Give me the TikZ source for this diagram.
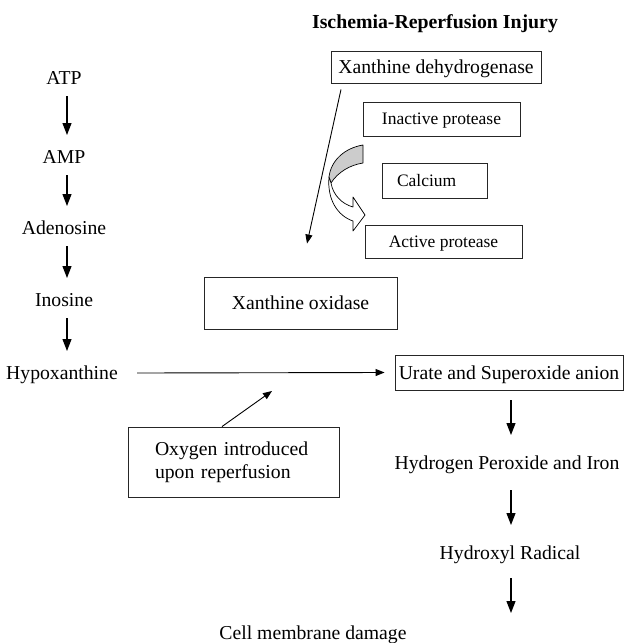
\documentclass[tikz,border=0pt]{standalone}
\usepackage{fontspec}
\setmainfont{Liberation Serif}
\usetikzlibrary{arrows.meta}
\begin{document}
\begin{tikzpicture}[x=1pt,y=-1pt,
  txt/.style={inner sep=0pt, text height=14pt, text depth=1pt, font=\fontsize{19.7}{23}\selectfont},
  box/.style={draw=black!85, line width=0.9pt, inner sep=0pt, text height=14pt, text depth=1pt, font=\fontsize{19.7}{23}\selectfont},
  sbox/.style={box, font=\fontsize{17.5}{21}\selectfont, text height=12.5pt},
  bigarr/.style={line width=1.2pt, -{Triangle[length=12pt,width=9pt]}},
  thinarr/.style={line width=0.9pt, -{Triangle[length=9pt,width=7pt]}},
  curv/.style={draw=black, line width=0.7pt, line join=round}
]
\useasboundingbox (0,0) rectangle (627,643);

% title
\node[txt, font=\bfseries\fontsize{19.8}{23}\selectfont] (title) at (435,22) {Ischemia-Reperfusion Injury};

% right-upper boxes
\node[box, minimum width=210, minimum height=32] (xdh) at (436,67) {Xanthine dehydrogenase};
\node[sbox, minimum width=157, minimum height=34] (inact) at (441.5,119) {Inactive protease};
\node[sbox, minimum height=35, text width=75pt, inner xsep=15pt, align=left] (ca) at (434.5,180.5) {Calcium};
\node[sbox, minimum width=157, minimum height=33] (act) at (443.5,241.5) {Active protease};
\node[box, minimum width=193, minimum height=52] (xo) at (300.5,303) {Xanthine oxidase};
\node[box, minimum width=228, minimum height=35] (urate) at (509,372.5) {Urate and Superoxide anion};
\node[draw=black!85, line width=0.9pt, minimum height=70, text width=157pt, inner xsep=27pt, inner ysep=0pt,
      align=left, font=\fontsize{19.7}{23}\selectfont] (oxy) at (233.5,462) {Oxygen introduced\\upon reperfusion};

% left column
\node[txt] (atp) at (64,78) {ATP};
\node[txt] (amp) at (64,157) {AMP};
\node[txt] (ado) at (64,228) {Adenosine};
\node[txt] (ino) at (64,300) {Inosine};
\node[txt] (hyp) at (62,373) {Hypoxanthine};

% right column
\node[txt] (hp) at (507,463) {Hydrogen Peroxide and Iron};
\node[txt] (hr) at (510,553) {Hydroxyl Radical};
\node[txt] (cell) at (313,633) {Cell membrane damage};

\coordinate (cellarr) at (511,613);
\coordinate (oxtip) at (272,391);

% left arrows
\draw[bigarr] ([xshift=3pt,yshift=-18pt]atp.center) -- ([xshift=3pt,yshift=22pt]amp.center);
\draw[bigarr] ([xshift=3pt,yshift=-18pt]amp.center) -- ([xshift=3pt,yshift=22pt]ado.center);
\draw[bigarr] ([xshift=3pt,yshift=-18pt]ado.center) -- ([xshift=3pt,yshift=22pt]ino.center);
\draw[bigarr] ([xshift=3pt,yshift=-18pt]ino.center) -- ([xshift=5pt,yshift=22pt]hyp.center);

% right arrows
\draw[bigarr] ([xshift=2pt,yshift=-10pt]urate.south) -- ([xshift=4pt,yshift=28pt]hp.center);
\draw[bigarr] ([xshift=4pt,yshift=-27pt]hp.center) -- ([xshift=1pt,yshift=28pt]hr.center);
\draw[bigarr] ([xshift=1pt,yshift=-25pt]hr.center) -- (cellarr);

% thin arrows
\draw[thinarr] ([xshift=19pt]hyp.east) -- ([xshift=-10pt]urate.west);
\draw[thinarr] ([xshift=-95pt,yshift=-6pt]xdh.south) -- ([xshift=6.5pt,yshift=33pt]xo.north);
\draw[thinarr] ([xshift=-11.5pt]oxy.north) -- (oxtip);

% curved block arrow
\filldraw[curv, fill=black!20] (363,145) .. controls (345,148) and (331,160) .. (329,177)
  -- (331,183) .. controls (338,172) and (350,165) .. (363,163) -- cycle;
\filldraw[curv, fill=white] (329,177) .. controls (327,200) and (338,216) .. (353,221)
  -- (353,231) -- (365,215) -- (353,197) -- (353,207)
  .. controls (342,204) and (333,195) .. (331,183) -- cycle;
\end{tikzpicture}
\end{document}
